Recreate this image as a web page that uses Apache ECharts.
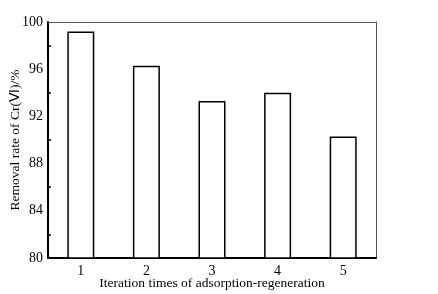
<!DOCTYPE html>
<html>
<head>
<meta charset="utf-8">
<script src="https://cdn.jsdelivr.net/npm/echarts@6/dist/echarts.min.js"></script>
<style>
  html, body { margin: 0; padding: 0; background: #fff; }
  #chart { width: 438px; height: 294px; }
</style>
</head>
<body>
<div id="chart"></div>
<script>
// data
const iterations = ['1', '2', '3', '4', '5']
const removalRate = [99.2, 96.3, 93.3, 94.0, 90.3]

const font = 'Liberation Serif, Times New Roman, serif'

const chart = echarts.init(document.getElementById('chart'))
chart.setOption({
  animation: false,
  backgroundColor: '#fff',
  textStyle: { fontFamily: font, color: '#000' },
  grid: { left: 48, top: 22, right: 62, bottom: 36, containLabel: false, outerBoundsMode: 'none' },
  xAxis: [
    {
      type: 'category',
      data: iterations,
      position: 'bottom',
      name: 'Iteration times of adsorption-regeneration',
      nameLocation: 'middle',
      nameGap: 18,
      nameMoveOverlap: false,
      nameTextStyle: { fontFamily: font, fontSize: 13.5, color: '#000' },
      axisLine: { lineStyle: { color: '#000', width: 2 } },
      axisTick: { alignWithLabel: true, inside: true, length: 5, lineStyle: { color: '#000', width: 1.5 } },
      axisLabel: { fontFamily: font, fontSize: 14, color: '#000', margin: 6 },
      splitLine: { show: false },
    },
    {
      type: 'category',
      data: iterations,
      position: 'bottom',
      axisLine: { show: false },
      axisTick: { inside: true, length: 2, lineStyle: { color: '#000', width: 1.5 } },
      axisLabel: { show: false },
      splitLine: { show: false },
    },
    {
      type: 'category',
      data: iterations,
      position: 'top',
      axisLine: { lineStyle: { color: '#555', width: 1 } },
      axisTick: { show: false },
      axisLabel: { show: false },
    },
  ],
  yAxis: [
    {
      type: 'value',
      min: 80,
      max: 100,
      interval: 4,
      position: 'left',
      name: 'Removal rate of Cr(Ⅵ)/%',
      nameLocation: 'middle',
      nameGap: 26,
      nameMoveOverlap: false,
      nameTextStyle: { fontFamily: font, fontSize: 13.5, color: '#000' },
      axisLine: { show: true, lineStyle: { color: '#000', width: 2 } },
      axisTick: { inside: true, length: 5, lineStyle: { color: '#000', width: 1.5 } },
      minorTick: { show: true, splitNumber: 2, length: 3, lineStyle: { color: '#000', width: 1.5 } },
      axisLabel: { fontFamily: font, fontSize: 14, color: '#000', margin: 5 },
      splitLine: { show: false },
    },
    {
      type: 'value',
      min: 80,
      max: 100,
      position: 'right',
      axisLine: { show: true, lineStyle: { color: '#555', width: 1 } },
      axisTick: { show: false },
      axisLabel: { show: false },
      splitLine: { show: false },
    },
  ],
  series: [
    {
      type: 'bar',
      data: removalRate,
      xAxisIndex: 0,
      yAxisIndex: 0,
      barWidth: 27,
      itemStyle: { color: '#fff', borderColor: '#000', borderWidth: 1.5 },
    },
  ],
})
</script>
</body>
</html>
